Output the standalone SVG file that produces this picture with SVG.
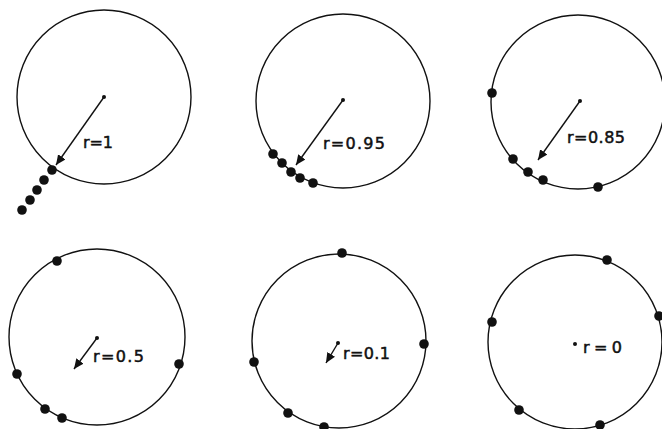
<svg xmlns="http://www.w3.org/2000/svg" width="662" height="429" viewBox="0 0 662 429">
<defs>
<marker id="ah" markerUnits="userSpaceOnUse" markerWidth="12" markerHeight="10" refX="10" refY="4.5" orient="auto">
<path d="M0,0 L10,4.5 L0,9 Z" fill="#111"/>
</marker>
<style>
.c{fill:none;stroke:#111;stroke-width:1.4}
.d{fill:#111}
.a{stroke:#111;stroke-width:1.4;fill:none;marker-end:url(#ah)}
.t{font-family:"DejaVu Sans","Liberation Sans",sans-serif;font-size:16px;fill:#111;stroke:#111;stroke-width:0.5}
</style>
</defs>
<rect width="662" height="429" fill="#fff"/>
<g id="panel-r1">
<circle class="c" cx="104" cy="97" r="87"/>
<circle class="d" cx="104" cy="97" r="2"/>
<line class="a" x1="104" y1="97" x2="56" y2="165"/>
<circle class="d" cx="52" cy="170" r="4.8"/>
<circle class="d" cx="44" cy="180" r="4.8"/>
<circle class="d" cx="37" cy="190" r="4.8"/>
<circle class="d" cx="30" cy="200" r="4.8"/>
<circle class="d" cx="22" cy="210" r="4.8"/>
<text class="t" x="83" y="148" textLength="30" lengthAdjust="spacing">r=1</text>
</g>
<g id="panel-r095">
<circle class="c" cx="343" cy="101" r="87"/>
<circle class="d" cx="343" cy="100" r="2"/>
<line class="a" x1="343" y1="100" x2="296" y2="165"/>
<circle class="d" cx="273" cy="154" r="4.8"/>
<circle class="d" cx="282" cy="163" r="4.8"/>
<circle class="d" cx="291" cy="172" r="4.8"/>
<circle class="d" cx="300" cy="178" r="4.8"/>
<circle class="d" cx="313" cy="183" r="4.8"/>
<text class="t" x="323" y="149" textLength="62" lengthAdjust="spacing">r=0.95</text>
</g>
<g id="panel-r085">
<circle class="c" cx="578" cy="102" r="87"/>
<circle class="d" cx="580" cy="101" r="2"/>
<line class="a" x1="580" y1="101" x2="538" y2="160"/>
<circle class="d" cx="492" cy="93" r="4.8"/>
<circle class="d" cx="513" cy="159" r="4.8"/>
<circle class="d" cx="528" cy="172" r="4.8"/>
<circle class="d" cx="543" cy="180" r="4.8"/>
<circle class="d" cx="598" cy="187" r="4.8"/>
<text class="t" x="567" y="143" textLength="58" lengthAdjust="spacing">r=0.85</text>
</g>
<g id="panel-r05">
<circle class="c" cx="97" cy="337" r="88"/>
<circle class="d" cx="97" cy="338" r="2"/>
<line class="a" x1="97" y1="338" x2="74" y2="369"/>
<circle class="d" cx="57" cy="261" r="4.8"/>
<circle class="d" cx="179" cy="364" r="4.8"/>
<circle class="d" cx="17" cy="374" r="4.8"/>
<circle class="d" cx="45" cy="409" r="4.8"/>
<circle class="d" cx="62" cy="418" r="4.8"/>
<text class="t" x="93" y="362" textLength="51" lengthAdjust="spacing">r=0.5</text>
</g>
<g id="panel-r01">
<circle class="c" cx="339" cy="341" r="87"/>
<circle class="d" cx="338" cy="343" r="2"/>
<line class="a" x1="338" y1="343" x2="326" y2="363"/>
<circle class="d" cx="342" cy="253" r="4.8"/>
<circle class="d" cx="424" cy="344" r="4.8"/>
<circle class="d" cx="254" cy="362" r="4.8"/>
<circle class="d" cx="288" cy="413" r="4.8"/>
<circle class="d" cx="324" cy="427" r="4.8"/>
<text class="t" x="343" y="359" textLength="47" lengthAdjust="spacing">r=0.1</text>
</g>
<g id="panel-r0">
<circle class="c" cx="575" cy="342" r="87"/>
<circle class="d" cx="575" cy="344" r="2"/>
<circle class="d" cx="607" cy="260" r="4.8"/>
<circle class="d" cx="659" cy="316" r="4.8"/>
<circle class="d" cx="492" cy="322" r="4.8"/>
<circle class="d" cx="519" cy="410" r="4.8"/>
<circle class="d" cx="600" cy="425" r="4.8"/>
<text class="t" x="583" y="353" textLength="39" lengthAdjust="spacing">r=0</text>
</g>
</svg>
